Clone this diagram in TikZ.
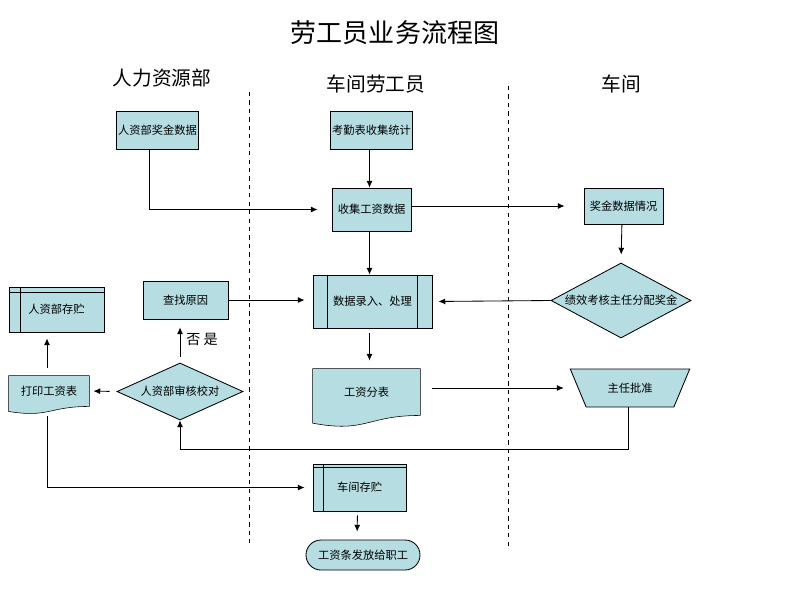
\documentclass[tikz,border=0pt]{standalone}
\usepackage{fontspec}
\setmainfont{Noto Sans CJK SC}
\usetikzlibrary{arrows,arrows.meta,shapes.geometric,backgrounds,calc}
\definecolor{boxfill}{RGB}{182,221,226}

\begin{document}
\begin{tikzpicture}[x=0.025cm,y=-0.025cm,>={Latex[length=1.7mm,width=1.5mm]},line width=0.6pt,
		box/.style={draw,fill=boxfill,font=\fontsize{8}{9}\selectfont,inner sep=1pt},
		dec/.style={draw,fill=boxfill,diamond,inner sep=0pt},
		txt/.style={font=\fontsize{8}{9}\selectfont},
		lane/.style={font=\fontsize{14}{16}\selectfont}]
				\useasboundingbox (0,0) rectangle (800,600);
				% title and lanes
				\node[font=\fontsize{18.5}{20}\selectfont] (title) at (395,33) {劳工员业务流程图};
				\node[lane] (hr) at (162,78) {人力资源部};
				\node[lane] (lg) at (376,84) {车间劳工员};
				\node[lane] (cj) at (621,84) {车间};
				\draw[dashed,line width=0.5pt] (249,92) -- (249,547);
				\draw[dashed,line width=0.5pt] (508,86) -- (508,547);
				% nodes
				\node[box,minimum width=1.975cm,minimum height=0.95cm] (rj) at (157.5,130) {人资部奖金数据};
				\node[box,minimum width=1.975cm,minimum height=0.95cm] (kq) at (371.5,130) {考勤表收集统计};
				\node[box,minimum width=1.975cm,minimum height=1.075cm] (sj) at (371.5,209.5) {收集工资数据};
				\node[box,minimum width=1.975cm,minimum height=0.9cm] (jq) at (623.5,206) {奖金数据情况};
				\node[dec,minimum width=3.5cm,minimum height=1.875cm,
					label={[txt]center:绩效考核主任分配奖金}] (jx) at (621,300.5) {};
				\node[box,minimum width=2.975cm,minimum height=1.325cm] (lr) at (372.5,301.5) {数据录入、处理};
				\draw ([xshift=0.375cm]lr.north west) -- ([xshift=0.375cm]lr.south west);
				\draw ([xshift=-0.375cm]lr.north east) -- ([xshift=-0.375cm]lr.south east);
				\node[box,minimum width=2.125cm,minimum height=0.95cm] (cz) at (185.5,300) {查找原因};
				\node[box,minimum width=2.375cm,minimum height=1.125cm] (rc) at (56.5,309.5) {人资部存贮};
				\draw ([xshift=0.3cm]rc.north west) -- ([xshift=0.3cm]rc.south west);
				\draw ([yshift=-0.15cm]rc.north west) -- ([yshift=-0.15cm]rc.north east);
				\node[txt,font=\fontsize{10}{12}\selectfont] (fs) at (202,339) {否\ 是};
				\node[txt,minimum width=2cm,minimum height=0.75cm] (dy) at (49,391) {打印工资表};
				\node[dec,minimum width=3.15cm,minimum height=1.425cm,
					label={[txt]center:人资部审核校对}] (sh) at (180,391.5) {};
				\node[txt,minimum width=2.675cm,minimum height=1.15cm] (gf) at (366.5,392) {工资分表};
				\begin{scope}[on background layer]
					\draw[fill=boxfill] (dy.north west) -- (dy.north east) -- (dy.south east)
						.. controls (dy.south) and ($(dy.south)+(0,11.6)$) .. ($(dy.south west)+(0,5)$) -- cycle;
					\draw[fill=boxfill] (gf.north west) -- (gf.north east) -- (gf.south east)
						.. controls (gf.south) and ($(gf.south)+(0,17.8)$) .. ($(gf.south west)+(0,7.7)$) -- cycle;
				\end{scope}
				\node[box,trapezium,shape border rotate=180,trapezium stretches=true,
					trapezium left angle=56.7,trapezium right angle=56.7,
					minimum width=3cm,minimum height=0.95cm] (zr) at (630,388) {主任批准};
				\node[box,minimum width=2.325cm,minimum height=1.175cm] (cc) at (359.5,487.5) {车间存贮};
				\draw ([xshift=0.275cm]cc.north west) -- ([xshift=0.275cm]cc.south west);
				\draw ([yshift=-0.1cm]cc.north west) -- ([yshift=-0.1cm]cc.north east);
				\node[box,rounded corners=0.375cm,minimum width=2.85cm,minimum height=0.75cm] (ff) at (363,555) {工资条发放给职工};
				% connectors
				\draw[->,shorten >=0.35cm] ([xshift=-0.2cm]rj.south) |- (sj.west);
				\draw[->] ([xshift=-0.05cm]kq.south) -- ([xshift=-0.05cm]sj.north);
				\draw[->,shorten >=0.475cm] (jq.west -| sj.east) -- (jq.west);
				\draw[->] ([xshift=-0.05cm]sj.south) -- ([xshift=-0.075cm]lr.north);
				\draw[->,shorten >=0.2cm] ([xshift=-0.04cm]jq.south) -- (jx.north);
				\draw[->,shorten >=0.15cm] (jx.west) -- (lr.east);
				\draw[->,shorten >=0.2cm] (cz.east) -- (cz.east -| lr.west);
				\draw[->,shorten <=0.125cm,shorten >=0.15cm] ([xshift=-0.075cm]lr.south) -- ([xshift=-0.075cm,yshift=0.05cm]lr.south |- gf.north);
				\draw[->,shorten <=0.3cm,shorten >=0.35cm] (zr.west -| gf.east) -- (zr.west);
				\draw[->] ([xshift=-0.05cm]zr.south) -- ++(0,42) -| (sh.south);
				\draw[->,shorten <=0.15cm,shorten >=0.2cm] (sh.north) -- (sh.north |- cz.south);
				\draw[->,shorten <=0.175cm,shorten >=0.1cm] (sh.west) -- (dy.east);
				\draw[->,shorten <=0.2cm,shorten >=0.15cm] ([xshift=-0.05cm]dy.north) -- ([xshift=-0.05cm]dy.north |- rc.south);
				\draw[->,shorten >=0.2cm] ($(dy.south)+(-2,10)$) |- (cc.west);
				\draw[->,shorten <=0.1cm,shorten >=0.2cm] ([xshift=-0.05cm]cc.south) -- ([xshift=-0.15cm]ff.north);
			\end{tikzpicture}
\end{document}
